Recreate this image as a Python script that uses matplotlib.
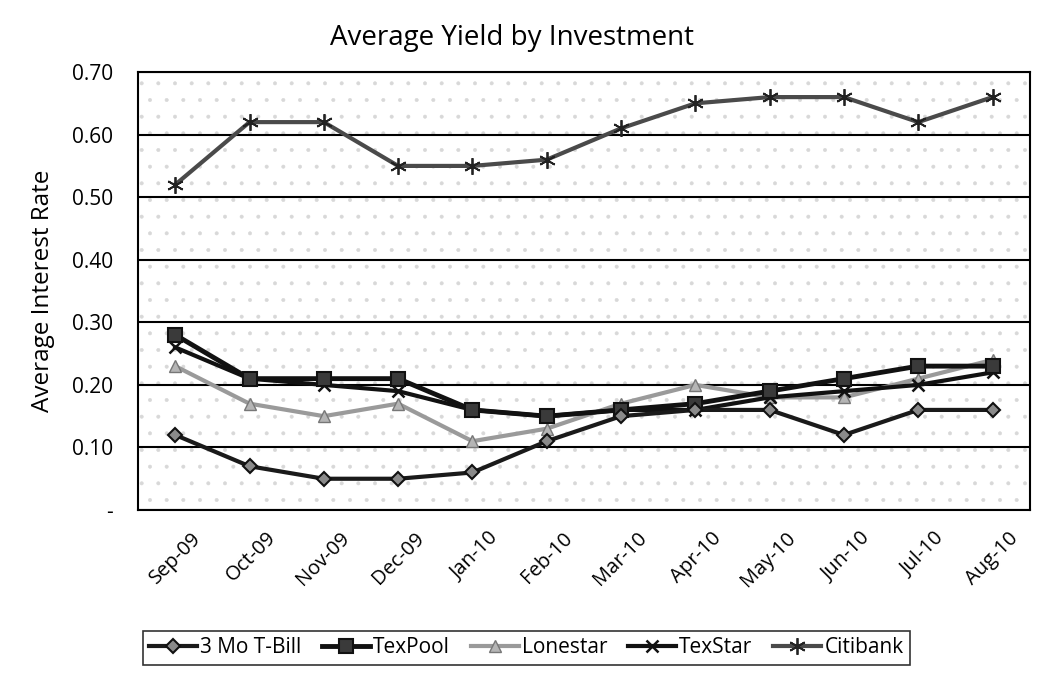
import matplotlib
matplotlib.use("Agg")
import matplotlib.pyplot as plt
import matplotlib.transforms as mtransforms
import numpy as np

months = ["Sep-09", "Oct-09", "Nov-09", "Dec-09", "Jan-10", "Feb-10",
          "Mar-10", "Apr-10", "May-10", "Jun-10", "Jul-10", "Aug-10"]
tbill    = [0.12, 0.07, 0.05, 0.05, 0.06, 0.11, 0.15, 0.16, 0.16, 0.12, 0.16, 0.16]
texpool  = [0.28, 0.21, 0.21, 0.21, 0.16, 0.15, 0.16, 0.17, 0.19, 0.21, 0.23, 0.23]
lonestar = [0.23, 0.17, 0.15, 0.17, 0.11, 0.13, 0.17, 0.20, 0.18, 0.18, 0.21, 0.24]
texstar  = [0.26, 0.21, 0.20, 0.19, 0.16, 0.15, 0.16, 0.16, 0.18, 0.19, 0.20, 0.22]
citibank = [0.52, 0.62, 0.62, 0.55, 0.55, 0.56, 0.61, 0.65, 0.66, 0.66, 0.62, 0.66]
yticks = [0.0, 0.1, 0.2, 0.3, 0.4, 0.5, 0.6, 0.7]
ytick_labels = ["-", "0.10", "0.20", "0.30", "0.40", "0.50", "0.60", "0.70"]

plt.rcParams['font.family'] = ['Open Sans', 'DejaVu Sans']
plt.rcParams['hatch.linewidth'] = 0.4

fig = plt.figure(figsize=(10.38, 6.87), dpi=100)
ax = fig.add_axes([0.133, 0.2576, 0.859, 0.6375])
ax.set_facecolor("white")
# sparse stipple-like background
ax.add_patch(plt.Rectangle((0, 0), 1, 1, transform=ax.transAxes, facecolor="none",
                           edgecolor="#d8d8d8", hatch=".", lw=0, zorder=0))

x = np.arange(len(months))
ax.plot(x, tbill, color="#1a1a1a", lw=3, marker="D", ms=7, mfc="#8a8a8a",
        mec="#111111", mew=1.5, label="3 Mo T-Bill", zorder=5)
ax.plot(x, texpool, color="#111111", lw=3.5, marker="s", ms=10, mfc="#3a3a3a",
        mec="#111111", mew=1.5, label="TexPool", zorder=4)
ax.plot(x, lonestar, color="#9a9a9a", lw=3, marker="^", ms=9, mfc="#b5b5b5",
        mec="#777777", mew=1, label="Lonestar", zorder=3)
ax.plot(x, texstar, color="#111111", lw=3, marker="x", ms=9, mec="#111111",
        mew=1.8, label="TexStar", zorder=3)
ax.plot(x, citibank, color="#4a4a4a", lw=3, marker=(6, 2, 0), ms=12, mec="#222222",
        mew=1.3, label="Citibank", zorder=3)

ax.set_xlim(-0.5, len(months) - 0.5)
ax.set_ylim(0, 0.7)
ax.set_yticks(yticks)
ax.set_yticklabels(ytick_labels, fontsize=15)
ax.set_xticks(x)
ax.set_xticklabels(months, rotation=45, ha="right", rotation_mode="anchor", fontsize=14.5)
ax.tick_params(axis="both", length=0)
ax.tick_params(axis="y", pad=18)
ax.tick_params(axis="x", pad=13)
offset = mtransforms.ScaledTranslation(0.16, 0, fig.dpi_scale_trans)
for lbl in ax.get_xticklabels():
    lbl.set_transform(lbl.get_transform() + offset)
ax.yaxis.grid(True, color="black", lw=1.5)
ax.set_axisbelow(True)
for s in ax.spines.values():
    s.set_color("black")
    s.set_linewidth(1.5)

ax.set_ylabel("Average Interest Rate", fontsize=17.5, labelpad=12)
fig.text(0.493, 0.945, "Average Yield by Investment", ha="center", va="center", fontsize=20)

leg = fig.legend(loc="center", bbox_to_anchor=(0.507, 0.057), ncol=5, fontsize=15,
                 frameon=True, fancybox=False, edgecolor="black", handlelength=2.3,
                 columnspacing=1.0, handletextpad=0.15, borderpad=0.3)
leg.get_frame().set_linewidth(1.2)

fig.savefig("out.png", dpi=100)
